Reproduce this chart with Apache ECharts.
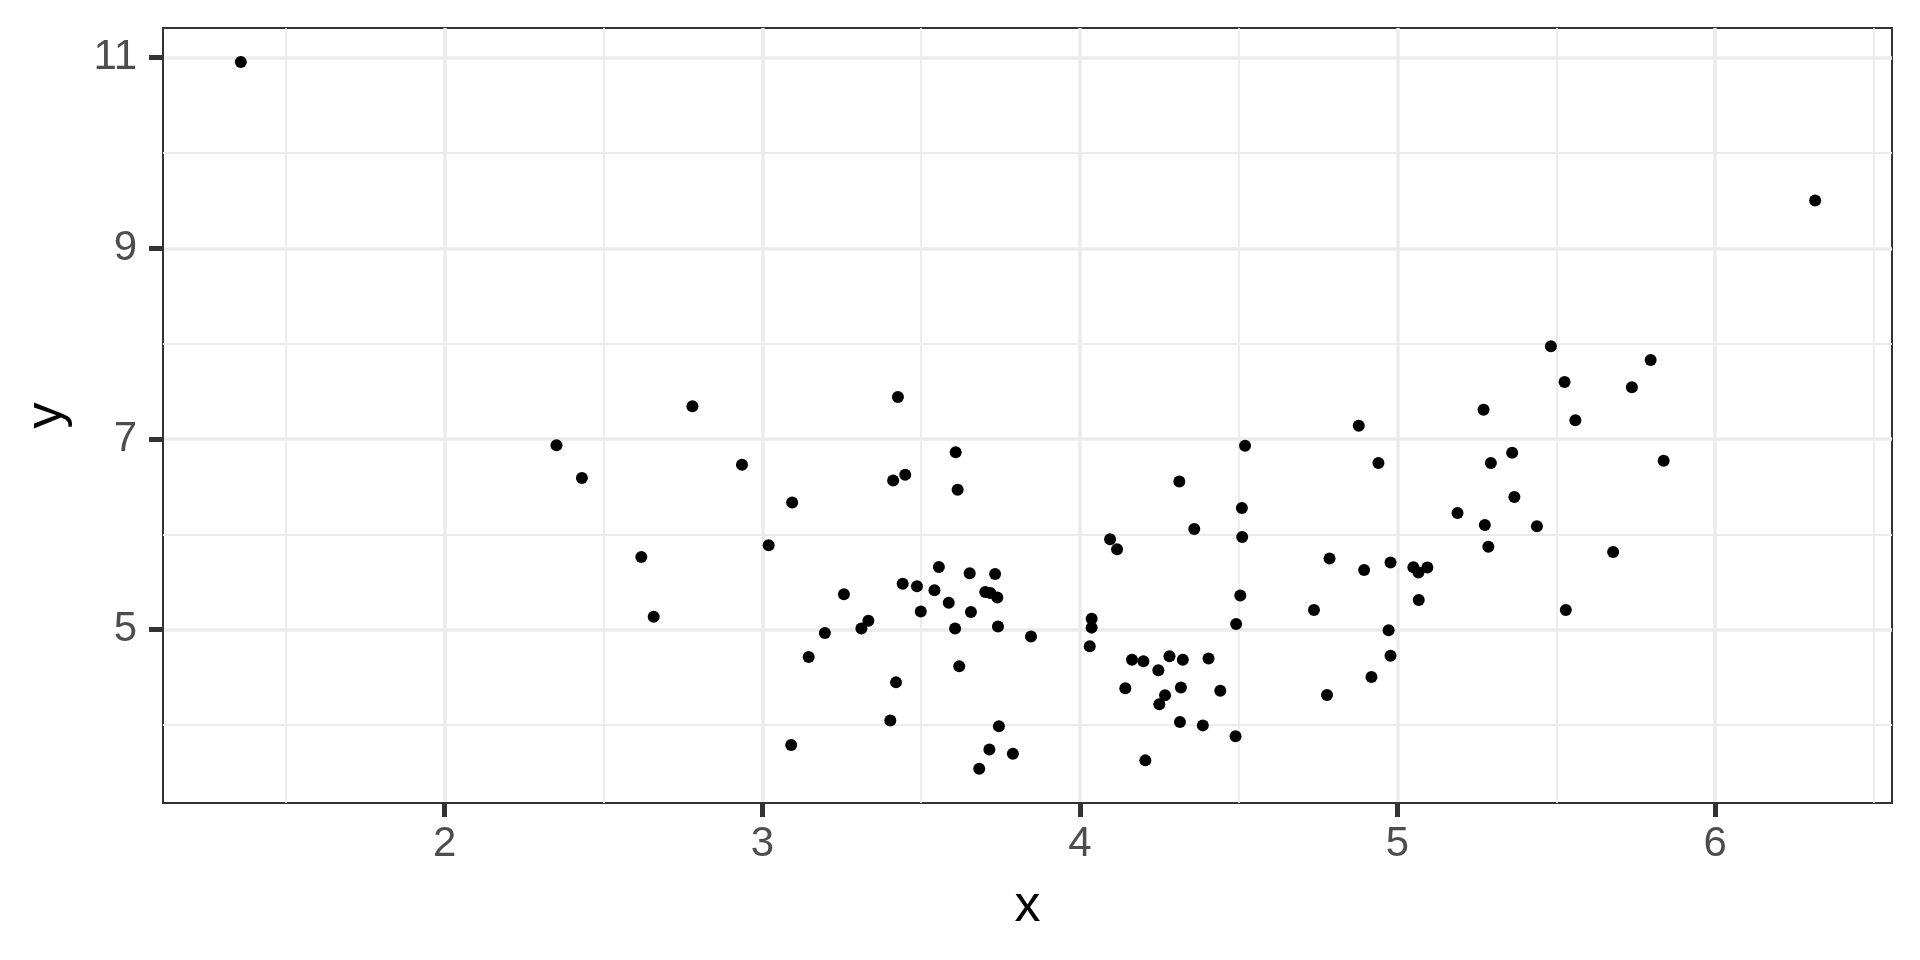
<!DOCTYPE html>
<html>
<head>
<meta charset="utf-8">
<title>scatter</title>
<script src="https://cdn.jsdelivr.net/npm/echarts@6/dist/echarts.min.js"></script>
<style>
    html, body {
        margin: 0;
        padding: 0;
        background: #fff;
    }
    #chart {
        width: 1920px;
        height: 960px;
    }
</style>
</head>
<body>
<div id="chart"></div>
<script>
// values
var xValues = [
    1.358, 6.315, 2.352, 2.432, 2.780, 2.936, 3.427, 3.412, 3.450, 3.094,
    3.020, 2.619, 3.609, 3.615, 4.095, 4.117, 4.313, 4.520, 4.510, 4.511,
    4.360, 5.483, 5.526, 5.738, 5.797, 5.271, 5.560, 4.878, 4.940, 5.361,
    5.294, 5.838, 5.368, 5.189, 5.275, 5.439, 5.286, 5.679, 4.786, 4.895,
    4.978, 5.050, 5.066, 5.094, 5.067, 4.737, 5.530, 4.972, 4.978, 4.918,
    4.778, 4.505, 4.492, 4.037, 4.037, 4.031, 4.164, 4.200, 4.282, 4.324,
    4.405, 4.247, 4.143, 4.318, 4.268, 4.250, 4.442, 4.315, 4.387, 4.490,
    4.206, 3.442, 3.487, 3.556, 3.542, 3.499, 3.587, 3.653, 3.733, 3.702,
    3.718, 3.740, 3.657, 3.607, 3.742, 3.846, 3.620, 3.745, 3.715, 3.789,
    3.683, 2.658, 3.257, 3.334, 3.312, 3.197, 3.146, 3.421, 3.403, 3.091
];
var yValues = [
    10.954, 9.500, 6.934, 6.591, 7.343, 6.731, 7.441, 6.565, 6.625, 6.333,
    5.885, 5.762, 6.860, 6.469, 5.948, 5.843, 6.555, 6.930, 6.276, 5.972,
    6.056, 7.972, 7.598, 7.542, 7.828, 7.308, 7.196, 7.140, 6.748, 6.857,
    6.748, 6.773, 6.392, 6.224, 6.098, 6.084, 5.871, 5.815, 5.746, 5.626,
    5.704, 5.655, 5.599, 5.653, 5.311, 5.207, 5.207, 4.994, 4.728, 4.504,
    4.315, 5.358, 5.060, 5.116, 5.022, 4.826, 4.686, 4.669, 4.722, 4.684,
    4.698, 4.574, 4.386, 4.393, 4.312, 4.218, 4.361, 4.032, 3.997, 3.882,
    3.630, 5.483, 5.455, 5.658, 5.413, 5.190, 5.284, 5.592, 5.584, 5.396,
    5.385, 5.337, 5.186, 5.012, 5.033, 4.928, 4.616, 3.987, 3.743, 3.700,
    3.543, 5.137, 5.371, 5.095, 5.012, 4.966, 4.714, 4.448, 4.047, 3.791
];
var xBreaks = [2, 3, 4, 5, 6];
var xMinorBreaks = [1.5, 2.5, 3.5, 4.5, 5.5, 6.5];
var yBreaks = [5, 7, 9, 11];
var yMinorBreaks = [4, 6, 8, 10];
var xRange = [1.113, 6.557];
var yRange = [3.183, 11.31];

var font = "'Liberation Sans', Arial, sans-serif";
var chart = echarts.init(document.getElementById('chart'), null, {renderer: 'canvas'});

var points = [];
for (var i = 0; i < xValues.length; i++) {
    points.push([xValues[i], yValues[i]]);
}

// minor grid lines go in as markLines on an empty helper series
var minorLines = [];
xMinorBreaks.forEach(function (v) { minorLines.push({xAxis: v}); });
yMinorBreaks.forEach(function (v) { minorLines.push({yAxis: v}); });

var option = {
    animation: false,
    backgroundColor: '#ffffff',
    grid: {
        left: 163,
        top: 28,
        width: 1729,
        height: 775,
        show: true,
        backgroundColor: 'transparent',
        borderColor: '#333333',
        borderWidth: 2,
        outerBoundsMode: 'none'
    },
    xAxis: {
        type: 'value',
        min: xRange[0],
        max: xRange[1],
        name: 'x',
        nameLocation: 'middle',
        nameGap: 78,
        nameTextStyle: {color: '#000', fontSize: 52, fontFamily: font},
        axisLine: {show: true, onZero: false, lineStyle: {color: '#333333', width: 2}},
        axisTick: {show: true, length: 14, customValues: xBreaks, lineStyle: {color: '#333333', width: 5}},
        axisLabel: {customValues: xBreaks, margin: 20, fontSize: 42, color: '#4d4d4d', fontFamily: font},
        splitLine: {show: true, lineStyle: {color: '#ebebeb', width: 3.5}}
    },
    yAxis: {
        type: 'value',
        min: yRange[0],
        max: yRange[1],
        name: 'y',
        nameLocation: 'middle',
        nameGap: 90,
        nameRotate: 90,
        nameTextStyle: {color: '#000', fontSize: 52, fontFamily: font},
        axisLine: {show: true, onZero: false, lineStyle: {color: '#333333', width: 2}},
        axisTick: {show: true, length: 14, customValues: yBreaks, lineStyle: {color: '#333333', width: 5}},
        axisLabel: {customValues: yBreaks, margin: 26, fontSize: 42, color: '#4d4d4d', fontFamily: font},
        splitLine: {show: true, lineStyle: {color: '#ebebeb', width: 3.5}}
    },
    series: [{
        type: 'scatter',
        z: 1,
        data: [],
        markLine: {
            silent: true,
            animation: false,
            z: 1,
            symbol: 'none',
            label: {show: false},
            lineStyle: {color: '#ebebeb', width: 1.8, type: 'solid'},
            data: minorLines
        }
    }, {
        type: 'scatter',
        z: 3,
        symbol: 'circle',
        symbolSize: 12,
        itemStyle: {color: '#000000', opacity: 1},
        data: points
    }]
};

chart.setOption(option);
</script>
</body>
</html>
